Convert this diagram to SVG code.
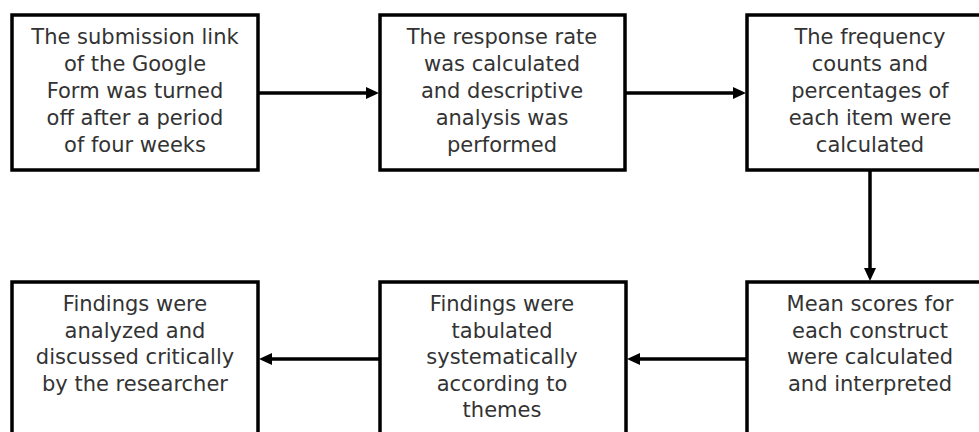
<svg xmlns="http://www.w3.org/2000/svg" width="979" height="432" viewBox="0 0 979 432">
  <style>
    .box { fill: #ffffff; stroke: #000000; stroke-width: 3.5; }
    .lbl { font-family: "DejaVu Sans", "Liberation Sans", sans-serif; font-size: 21px; fill: #333333; text-anchor: middle; }
    .conn { fill: none; stroke: #000000; stroke-width: 3.5; marker-end: url(#arrow); }
  </style>
  <defs>
    <marker id="arrow" markerUnits="userSpaceOnUse" markerWidth="14" markerHeight="12" refX="3" refY="6" orient="auto">
      <path d="M0,0 L13,6 L0,12 z" fill="#000000"/>
    </marker>
  </defs>
  <rect x="0" y="0" width="979" height="432" fill="#ffffff"/>

  <g id="node1">
    <rect class="box" x="12" y="15" width="246" height="155"/>
    <text class="lbl" x="135" y="44">The submission link</text>
    <text class="lbl" x="135" y="71">of the Google</text>
    <text class="lbl" x="135" y="98">Form was turned</text>
    <text class="lbl" x="135" y="125">off after a period</text>
    <text class="lbl" x="135" y="152">of four weeks</text>
  </g>

  <g id="node2">
    <rect class="box" x="380" y="15" width="245" height="155"/>
    <text class="lbl" x="502" y="44">The response rate</text>
    <text class="lbl" x="502" y="71">was calculated</text>
    <text class="lbl" x="502" y="98">and descriptive</text>
    <text class="lbl" x="502" y="125">analysis was</text>
    <text class="lbl" x="502" y="152">performed</text>
  </g>

  <g id="node3">
    <rect class="box" x="747" y="15" width="246" height="155"/>
    <text class="lbl" x="870" y="44">The frequency</text>
    <text class="lbl" x="870" y="71">counts and</text>
    <text class="lbl" x="870" y="98">percentages of</text>
    <text class="lbl" x="870" y="125">each item were</text>
    <text class="lbl" x="870" y="152">calculated</text>
  </g>

  <g id="node4">
    <rect class="box" x="747" y="282" width="246" height="160"/>
    <text class="lbl" x="870" y="311">Mean scores for</text>
    <text class="lbl" x="870" y="337.5">each construct</text>
    <text class="lbl" x="870" y="364">were calculated</text>
    <text class="lbl" x="870" y="390.5">and interpreted</text>
  </g>

  <g id="node5">
    <rect class="box" x="380" y="282" width="246" height="160"/>
    <text class="lbl" x="502" y="311">Findings were</text>
    <text class="lbl" x="502" y="337.5">tabulated</text>
    <text class="lbl" x="502" y="364">systematically</text>
    <text class="lbl" x="502" y="390.5">according to</text>
    <text class="lbl" x="502" y="417">themes</text>
  </g>

  <g id="node6">
    <rect class="box" x="12" y="282" width="246" height="160"/>
    <text class="lbl" x="135" y="311">Findings were</text>
    <text class="lbl" x="135" y="337.5">analyzed and</text>
    <text class="lbl" x="135" y="364">discussed critically</text>
    <text class="lbl" x="135" y="390.5">by the researcher</text>
  </g>

  <g id="connectors">
    <path class="conn" d="M258,93 L369,93"/>
    <path class="conn" d="M625,93 L736,93"/>
    <path class="conn" d="M870,170 L870,271"/>
    <path class="conn" d="M747,359 L637,359"/>
    <path class="conn" d="M380,359 L269,359"/>
  </g>
</svg>
